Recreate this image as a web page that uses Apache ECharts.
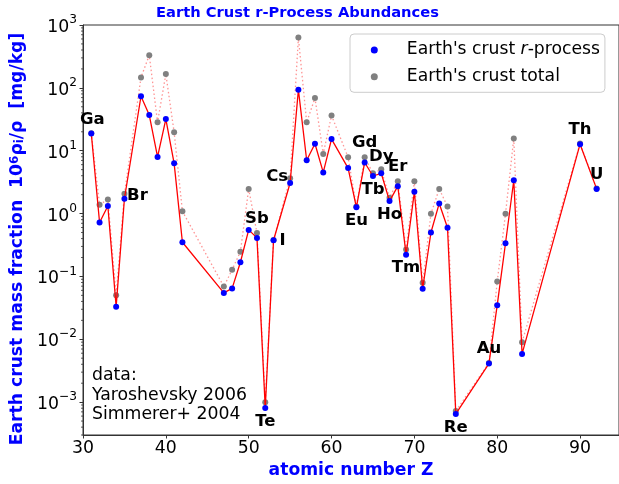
<!DOCTYPE html>
<html><head><meta charset="utf-8">
<script src="https://cdn.jsdelivr.net/npm/echarts@6/dist/echarts.min.js"></script>
<style>html,body{margin:0;padding:0;background:#fff}#c{width:619px;height:484px}</style>
</head><body><div id="c"></div>
<script>
// ---- data ----
const atomicNumbers = [31,32,33,34,35,37,38,39,40,41,42,47,48,49,50,51,52,53,55,56,57,58,59,60,62,63,64,65,66,67,68,69,70,71,72,73,74,75,79,80,81,82,83,90,92];
const rProcess = [18.8,0.72,1.32,0.033,1.72,73.5,36.9,7.96,31.9,6.3,0.35,0.0546,0.0645,0.168,0.55,0.41,8.1e-4,0.376,3.07,93.3,7.06,12.9,4.52,15.3,5.29,1.26,6.5,3.96,4.37,1.58,2.73,0.221,2.22,0.0638,0.50,1.45,0.596,6.5e-4,4.1e-3,0.0349,0.337,3.39,5.85e-3,12.7,2.47];
const crustTotal = [19,1.38,1.68,0.05,2.06,146,331,28.3,166,19.7,1.09,0.069,0.128,0.246,2.47,0.49,1.0e-3,0.38,3.64,630,28.3,69,8.9,36.4,7.87,1.3,7.87,4.37,5.05,1.79,3.27,0.269,3.27,0.079,0.99,2.47,1.29,7.2e-4,4.2e-3,0.083,0.99,15.7,9.0e-3,13,2.5];
const labeledElements = {31:'Ga',35:'Br',51:'Sb',52:'Te',53:'I',55:'Cs',63:'Eu',64:'Gd',65:'Tb',66:'Dy',67:'Ho',68:'Er',69:'Tm',75:'Re',79:'Au',90:'Th',92:'U'};
const minorDecades = [-4,-3,-2,-1,0,1,2];
const minorMultiples = [2,3,4,5,6,7,8,9];
const seriesNames = ["Earth's crust r-process", "Earth's crust total"];
const titleText = 'Earth Crust r-Process Abundances';
const noteText = 'data:\nYaroshevsky 2006\nSimmerer+ 2004';

// ---- styling of labels (pixel offsets of text centre from its point) ----
const labelOffset = {Ga:[1,-14],Br:[13,-3],Sb:[0,-19],Te:[0,14],I:[9,0],Cs:[-13,-6],Eu:[0,13],Gd:[0,-20],Dy:[0,-17],Tb:[0,14],Er:[0,-19],Ho:[0,14],Tm:[0,13],Re:[0,14],Au:[0,-15],Th:[0,-14],U:[0,-14]};
const SYM = 6;

const FONT = 'DejaVu Sans';
const rData = atomicNumbers.map((z,i)=>{
  const item = {value:[z, rProcess[i]]};
  const nm = labeledElements[z];
  if (nm) {
    const o = labelOffset[nm];
    item.label = {show:true, formatter:nm, position:[SYM/2+o[0], SYM/2+o[1]], align:'center', verticalAlign:'middle',
     color:'#000', fontFamily:FONT, fontWeight:'bold', fontSize:16.5};
  }
  return item;
});
const tData = atomicNumbers.map((z,i)=>[z, crustTotal[i]]);
const minorData = [];
minorDecades.forEach(d=>minorMultiples.forEach(m=>{const v=m*Math.pow(10,d); if(v>=3e-4&&v<=1000) minorData.push([30,v]);}));

const chart = echarts.init(document.getElementById('c'), null, {renderer:'canvas'});
chart.setOption({
  animation:false,
  backgroundColor:'#fff',
  grid:{left:83, top:25, right:-1, bottom:45, show:true, borderColor:'#333', borderWidth:1, backgroundColor:'transparent'},
  graphic:[
    {type:'text', x:297.5, y:13.5, style:{text:titleText, align:'center', verticalAlign:'middle', fill:'#0000ff', font:'bold 14.7px "DejaVu Sans"'}},
    {type:'text', left:92, top:366, z:10, style:{text:noteText, fill:'#000', font:'17.3px "DejaVu Sans"', lineHeight:19.5}}
  ],
  legend:{
    left:350, top:34, orient:'vertical',
    padding:[6,5,5.6,20.8], itemGap:6.7, itemWidth:7, itemHeight:7,
    backgroundColor:'rgba(255,255,255,0.8)', borderColor:'#cccccc', borderWidth:1, borderRadius:4,
    data:[{name:seriesNames[0], icon:'circle'},{name:seriesNames[1], icon:'circle'}],
    formatter:(name)=> name===seriesNames[0] ? "{n|Earth's crust }{i|r}{n|-process}" : '{n|'+name+'}',
    textStyle:{padding:[0,0,0,24], lineHeight:20, rich:{
      n:{fontFamily:FONT, fontSize:17.2, color:'#000', lineHeight:20},
      i:{fontFamily:FONT, fontSize:17.2, color:'#000', fontStyle:'italic', lineHeight:20}
    }}
  },
  xAxis:{
    type:'value', min:30, max:94.7, interval:10,
    name:'atomic number Z', nameLocation:'middle', nameGap:27,
    nameTextStyle:{color:'#0000ff', fontFamily:FONT, fontWeight:'bold', fontSize:17.2},
    axisLine:{show:true, lineStyle:{color:'#333', width:1}},
    axisTick:{show:true, inside:false, length:3.5, lineStyle:{color:'#333'}},
    axisLabel:{show:true, showMaxLabel:false, margin:5, color:'#000', fontFamily:FONT, fontSize:17.3},
    splitLine:{show:false}
  },
  yAxis:{
    type:'log', logBase:10, min:3e-4, max:1000,
    name:"Earth crust mass fraction  10{sup|6}ρ{sub|i}/ρ  [mg/kg]",
    nameLocation:'middle', nameGap:55, nameRotate:90,
    nameTextStyle:{color:'#0000ff', fontFamily:FONT, fontWeight:'bold', fontSize:17.2, padding:[0,18,0,0], rich:{
      sup:{color:'#0000ff', fontFamily:FONT, fontWeight:'bold', fontSize:12, verticalAlign:'top', lineHeight:12},
      sub:{color:'#0000ff', fontFamily:FONT, fontWeight:'bold', fontSize:12, verticalAlign:'bottom', lineHeight:12}
    }},
    axisLine:{show:true, lineStyle:{color:'#333', width:1}},
    axisTick:{show:true, inside:false, length:3.5, lineStyle:{color:'#333'}},
    axisLabel:{show:true, showMinLabel:false, margin:6, color:'#000',
      formatter:(v)=>{const e=Math.round(Math.log10(v)); return '{b|10}{s|'+String(e).replace('-','\u2212')+'}';},
      rich:{
        b:{fontFamily:FONT, fontSize:17.3, color:'#000', lineHeight:22, verticalAlign:'bottom'},
        s:{fontFamily:FONT, fontSize:12.2, color:'#000', lineHeight:12, verticalAlign:'top'}
      }},
    splitLine:{show:false}
  },
  series:[
    {type:'custom', name:'minor', silent:true, clip:false, coordinateSystem:'cartesian2d', data:minorData, z:1,
     renderItem:(params, api)=>{const p=api.coord([api.value(0), api.value(1)]); return {type:'line', shape:{x1:p[0]-2, y1:p[1], x2:p[0], y2:p[1]}, style:{stroke:'#333', lineWidth:0.8}};}},
    {type:'line', name:seriesNames[1], data:tData, symbol:'circle', symbolSize:SYM, showSymbol:true, z:2,
     itemStyle:{color:'#808080'}, lineStyle:{color:'rgba(255,60,60,0.55)', width:1.3, type:[1.5,2.5]}},
    {type:'line', name:seriesNames[0], data:rData, symbol:'circle', symbolSize:SYM, showSymbol:true, z:3,
     itemStyle:{color:'#0000ff'}, lineStyle:{color:'#ff0000', width:1.3}, labelLayout:{hideOverlap:false}}
  ]
});
</script></body></html>
